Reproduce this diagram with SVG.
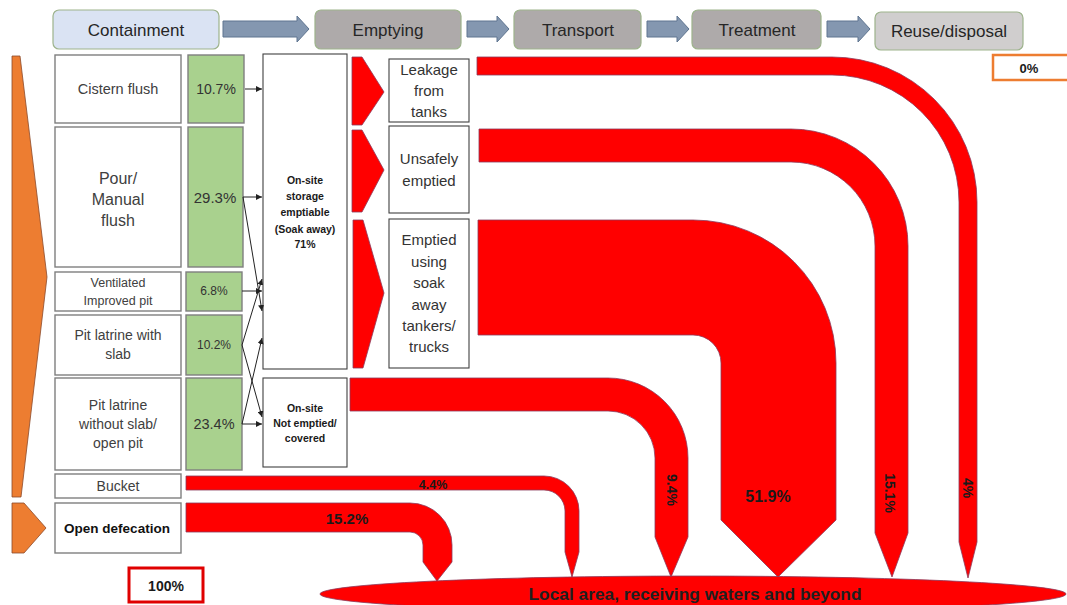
<svg xmlns="http://www.w3.org/2000/svg" width="1067" height="605" viewBox="0 0 1067 605">
<defs>
<style>
text{font-family:"Liberation Sans",Arial,sans-serif;text-anchor:middle;}
.hdr{font-size:17px;fill:#262626;}
.hbox{stroke:#9db38c;stroke-width:1.2;}
.harrow{fill:#8497b0;stroke:#5f7590;stroke-width:1;}
.box{fill:#fff;stroke:#7f7f7f;stroke-width:1.4;}
.gbox{fill:#a9d18e;stroke:#7f7f7f;stroke-width:1.4;}
.wbox{fill:#fff;stroke:#404040;stroke-width:1.1;}
.lt{fill:#404040;}
.gt{fill:#333;}
.ot{fill:#1a1a1a;font-size:10.5px;font-weight:bold;}
.red{fill:#ff0000;stroke:#8c3a5a;stroke-width:0.8;}
.org{fill:#ed7d31;stroke:#8b4a2b;stroke-width:0.8;}
.pct{font-weight:bold;fill:#1a1a1a;}
.con{stroke:#222;stroke-width:1;fill:none;marker-end:url(#ah);}
</style>
<marker id="ah" viewBox="0 0 6 6" refX="6" refY="3" markerWidth="6" markerHeight="6" markerUnits="userSpaceOnUse" orient="auto">
<path d="M0,0 L6,3 L0,6 z" fill="#222"/>
</marker>
</defs>
<rect width="1067" height="605" fill="#fff"/>

<!-- Header -->
<g id="hdr-containment"><rect class="hbox" x="53" y="10" width="166" height="39" rx="6" fill="#dae3f3"/><text class="hdr" x="136" y="36">Containment</text></g>
<g id="hdr-emptying"><rect class="hbox" x="315" y="10" width="146" height="39" rx="6" fill="#aeaaaa"/><text class="hdr" x="388" y="36">Emptying</text></g>
<g id="hdr-transport"><rect class="hbox" x="514" y="10" width="127" height="39" rx="6" fill="#aeaaaa"/><text class="hdr" x="578" y="36">Transport</text></g>
<g id="hdr-treatment"><rect class="hbox" x="692" y="10" width="129" height="39" rx="6" fill="#aeaaaa"/><text class="hdr" x="757" y="36">Treatment</text></g>
<g id="hdr-reuse"><rect class="hbox" x="875" y="12" width="148" height="38" rx="6" fill="#d0cece"/><text class="hdr" x="949" y="37">Reuse/disposal</text></g>
<g id="hdr-arrows">
<polygon class="harrow" points="223,21 297,21 297,16 309,29 297,42 297,37 223,37"/>
<polygon class="harrow" points="467,21 497,21 497,16 509,29 497,42 497,37 467,37"/>
<polygon class="harrow" points="647,21 677,21 677,16 689,29 677,42 677,37 647,37"/>
<polygon class="harrow" points="827,21 858,21 858,16 870,29 858,42 858,37 827,37"/>
</g>
<g id="zero-box"><rect x="993" y="55" width="76" height="25" fill="#fff" stroke="#ed7d31" stroke-width="2.5"/><text class="pct" x="1029" y="73" font-size="13">0%</text></g>

<!-- Orange shapes -->
<g id="orange-main"><polygon class="org" points="12,56 20,56 47,277 21,497 12,497"/></g>
<g id="orange-od"><polygon class="org" points="12,503 24,503 46,528 24,553 12,553"/></g>

<!-- Containment boxes -->
<g id="n-cistern"><rect class="box" x="55" y="55" width="126" height="68"/><text class="lt" x="118" y="94" font-size="14.5">Cistern flush</text></g>
<g id="n-pour"><rect class="box" x="55" y="127" width="126" height="140"/><text class="lt" font-size="16"><tspan x="118" y="184">Pour/</tspan><tspan x="118" y="205">Manual</tspan><tspan x="118" y="226">flush</tspan></text></g>
<g id="n-vip"><rect class="box" x="55" y="272" width="126" height="39"/><text class="lt" font-size="12.5"><tspan x="118" y="287">Ventilated</tspan><tspan x="118" y="305">Improved pit</tspan></text></g>
<g id="n-pitslab"><rect class="box" x="55" y="315" width="126" height="60"/><text class="lt" font-size="14"><tspan x="118" y="340">Pit latrine with</tspan><tspan x="118" y="359">slab</tspan></text></g>
<g id="n-pitnoslab"><rect class="box" x="55" y="378" width="126" height="92"/><text class="lt" font-size="14"><tspan x="118" y="410">Pit latrine</tspan><tspan x="118" y="429">without slab/</tspan><tspan x="118" y="448">open pit</tspan></text></g>
<g id="n-bucket"><rect class="box" x="55" y="474" width="126" height="24"/><text class="lt" x="118" y="491" font-size="14">Bucket</text></g>
<g id="n-od"><rect class="box" x="55" y="503" width="126" height="50"/><text x="117" y="533" font-size="13.5" font-weight="bold" fill="#111">Open defecation</text></g>

<!-- Green percentage boxes -->
<g id="g-107"><rect class="gbox" x="188" y="55" width="56" height="68"/><text class="gt" x="216" y="94" font-size="14">10.7%</text></g>
<g id="g-293"><rect class="gbox" x="188" y="127" width="55" height="140"/><text class="gt" x="215" y="203" font-size="15">29.3%</text></g>
<g id="g-68"><rect class="gbox" x="186" y="272" width="56" height="39"/><text class="gt" x="214" y="295" font-size="12">6.8%</text></g>
<g id="g-102"><rect class="gbox" x="186" y="315" width="56" height="60"/><text class="gt" x="214" y="349" font-size="12">10.2%</text></g>
<g id="g-234"><rect class="gbox" x="186" y="378" width="56" height="92"/><text class="gt" x="214" y="429" font-size="14.5">23.4%</text></g>

<!-- On-site boxes -->
<g id="n-onsite-empt"><rect class="wbox" x="263" y="54" width="84" height="315"/><text class="ot"><tspan x="305" y="184">On-site</tspan><tspan x="305" y="200">storage</tspan><tspan x="305" y="216">emptiable</tspan><tspan x="305" y="233">(Soak away)</tspan><tspan x="305" y="248">71%</tspan></text></g>
<g id="n-onsite-not"><rect class="wbox" x="263" y="378" width="84" height="89"/><text class="ot"><tspan x="305" y="412">On-site</tspan><tspan x="305" y="427">Not emptied/</tspan><tspan x="305" y="442">covered</tspan></text></g>

<!-- Connectors -->
<g id="connectors">
<path class="con" d="M245,89 L262,89"/>
<path class="con" d="M243,197 L262,197"/>
<path class="con" d="M243,197 L262,311"/>
<path class="con" d="M242,291 L262,291"/>
<path class="con" d="M242,345 L262,279"/>
<path class="con" d="M242,345 L262,417"/>
<path class="con" d="M242,424 L262,338"/>
<path class="con" d="M242,424 L262,424"/>
</g>

<!-- Chevrons -->
<g id="chevrons">
<polygon class="red" points="352,57 362,57 384,92 362,125 352,125"/>
<polygon class="red" points="352,130 362,130 384,170 362,212 352,212"/>
<polygon class="red" points="353,220 363,220 384,293 363,368 353,368"/>
</g>

<!-- Emptying boxes -->
<g id="n-leakage"><rect class="wbox" x="389" y="59" width="80" height="63"/><text class="gt" font-size="15"><tspan x="429" y="75">Leakage</tspan><tspan x="429" y="96">from</tspan><tspan x="429" y="117">tanks</tspan></text></g>
<g id="n-unsafe"><rect class="wbox" x="389" y="126" width="80" height="87"/><text class="gt" font-size="15"><tspan x="429" y="164">Unsafely</tspan><tspan x="429" y="186">emptied</tspan></text></g>
<g id="n-emptied"><rect class="wbox" x="389" y="219" width="80" height="149"/><text class="gt" font-size="15"><tspan x="429" y="245">Emptied</tspan><tspan x="429" y="267">using</tspan><tspan x="429" y="288">soak</tspan><tspan x="429" y="310">away</tspan><tspan x="429" y="331">tankers/</tspan><tspan x="429" y="352">trucks</tspan></text></g>

<!-- Receiving ellipse -->
<g id="n-local">
<ellipse class="red" cx="693" cy="594" rx="373" ry="18"/>
<text x="695" y="600" font-size="16" font-weight="bold" fill="#1f1f1f" textLength="333" lengthAdjust="spacingAndGlyphs">Local area, receiving waters and beyond</text>
</g>

<!-- Red flows -->
<g id="flows">
<path class="red" d="M477,57 L832,57 A145,145 0 0 1 977,202 L977,542 L968,578 L959,542 L959,202 A127,127 0 0 0 832,75 L477,75 Z"/>
<path class="red" d="M479,129 L791,129 A117,117 0 0 1 908,246 L908,533 L892,577 L875,533 L875,246 A84,84 0 0 0 791,162 L479,162 Z"/>
<path class="red" d="M478,220 L693,220 A143,143 0 0 1 836,363 L836,520 L778,577 L721,520 L721,363 A28,28 0 0 0 693,335 L478,335 Z"/>
<path class="red" d="M350,378 L608,378 A80,80 0 0 1 688,458 L688,537 L671,577 L655,537 L655,458 A47,47 0 0 0 608,411 L350,411 Z"/>
<path class="red" d="M186,476 L544,476 A35,35 0 0 1 579,511 L579,552 L572,577 L565,552 L565,511 A21,21 0 0 0 544,490 L186,490 Z"/>
<path class="red" d="M186,503 L410,503 A42,42 0 0 1 452,545 L452,562 L437,581 L423,562 L423,545 A13,13 0 0 0 410,532 L186,532 Z"/>
</g>

<!-- Flow labels -->
<g id="flow-labels">
<text class="pct" x="433" y="489" font-size="12.5">4.4%</text>
<text class="pct" x="347" y="524" font-size="15">15.2%</text>
<text class="pct" x="768" y="502" font-size="16">51.9%</text>
<text class="pct" font-size="14" transform="translate(672,490) rotate(90)" x="0" y="5">9.4%</text>
<text class="pct" font-size="14" transform="translate(890,493) rotate(90)" x="0" y="5">15.1%</text>
<text class="pct" font-size="14" transform="translate(968,488) rotate(90)" x="0" y="5">4%</text>
</g>

<g id="hundred-box"><rect x="129" y="568" width="74" height="34" fill="#fff" stroke="#e00000" stroke-width="3"/><text class="pct" x="166" y="591" font-size="14">100%</text></g>
</svg>
